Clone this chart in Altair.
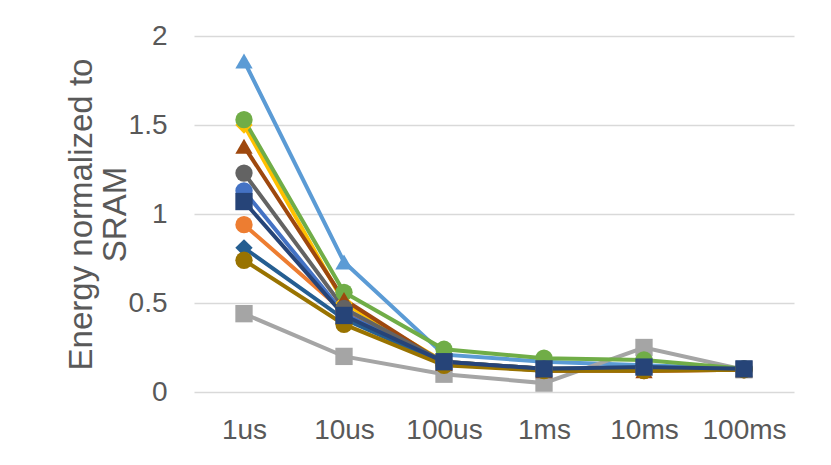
import altair as alt
import pandas as pd

categories = ["1us", "10us", "100us", "1ms", "10ms", "100ms"]
series_names = ["360buy", "adobe", "baidumap", "frozenbubble", "k9mail",
                "kingsoftoffice", "mxplayer", "netease", "sinaweibo", "ttpod", "AVERAGE"]
series_colors = ["#5B9BD5", "#ED7D31", "#A5A5A5", "#FFC000", "#4472C4",
                 "#70AD47", "#255E91", "#9E480E", "#636363", "#997300", "#264478"]
series_markers = ["triangle-up", "circle", "square", "diamond", "circle",
                  "circle", "diamond", "triangle-up", "circle", "circle", "square"]
# legend is filled column by column: left column first, then right column
legend_order = ["360buy", "baidumap", "k9mail", "mxplayer", "sinaweibo", "AVERAGE",
                "adobe", "frozenbubble", "kingsoftoffice", "netease", "ttpod"]

v_360buy = [1.86, 0.73, 0.21, 0.17, 0.15, 0.13]
v_adobe = [0.94, 0.45, 0.16, 0.13, 0.12, 0.125]
v_baidumap = [0.44, 0.20, 0.10, 0.05, 0.25, 0.125]
v_frozenbubble = [1.50, 0.50, 0.17, 0.13, 0.13, 0.13]
v_k9mail = [1.13, 0.44, 0.17, 0.13, 0.13, 0.13]
v_kingsoftoffice = [1.53, 0.56, 0.24, 0.19, 0.18, 0.13]
v_mxplayer = [0.81, 0.41, 0.16, 0.13, 0.13, 0.125]
v_netease = [1.38, 0.52, 0.16, 0.12, 0.12, 0.125]
v_sinaweibo = [1.23, 0.47, 0.17, 0.13, 0.13, 0.13]
v_ttpod = [0.74, 0.38, 0.15, 0.12, 0.12, 0.125]
v_average = [1.07, 0.43, 0.17, 0.13, 0.14, 0.13]

all_values = [v_360buy, v_adobe, v_baidumap, v_frozenbubble, v_k9mail,
              v_kingsoftoffice, v_mxplayer, v_netease, v_sinaweibo, v_ttpod, v_average]

rows = []
for si, (name, vals) in enumerate(zip(series_names, all_values)):
    for ci, (cat, v) in enumerate(zip(categories, vals)):
        rows.append({"series": name, "time": cat, "value": v, "order": si, "ci": ci})
df = pd.DataFrame(rows)

FONT = "Liberation Sans"
TXT = "#595959"

name_color = dict(zip(series_names, series_colors))
name_marker = dict(zip(series_names, series_markers))

legend = alt.Legend(
    orient="none", legendX=121.5, legendY=-10, columns=2, title=None,
    labelFont=FONT, labelFontSize=27, labelColor=TXT,
    symbolSize=289, symbolStrokeWidth=3.5, labelOffset=25.5,
    columnPadding=72, rowPadding=2.5, padding=0, symbolOpacity=1,
)

color_scale = alt.Scale(domain=legend_order, range=[name_color[n] for n in legend_order])
shape_scale = alt.Scale(domain=legend_order, range=[name_marker[n] for n in legend_order])
x = alt.X("time:N", sort=categories, scale=alt.Scale(domain=categories),
          axis=alt.Axis(title=None, labelAngle=0, grid=False, domain=False, ticks=False,
                        labelPadding=24, labelFontSize=28))
y = alt.Y("value:Q", scale=alt.Scale(domain=[0, 2], nice=False),
          axis=alt.Axis(title=["Energy normalized to", "SRAM"], values=[0, 0.5, 1, 1.5, 2],
                        format="~g", grid=True, domain=False, ticks=False, labelPadding=27,
                        labelFontSize=28,
                        titleFontSize=33, titleLineHeight=34, titleFontWeight="normal",
                        titleX=-113, titleBaseline="middle"))

base = alt.Chart(df)
lines = base.mark_line(strokeWidth=4).encode(
    x=x, y=y, color=alt.Color("series:N", scale=color_scale, legend=None),
    detail="series:N", order="ci:Q")
points = base.mark_point(filled=True, size=300, opacity=1).encode(
    x=x, y=y,
    color=alt.Color("series:N", scale=color_scale, legend=legend),
    shape=alt.Shape("series:N", scale=shape_scale, legend=None),
)

chart = alt.layer(lines, points).properties(
    width=600, height=356,
    padding={"left": 186, "top": 28, "right": 25, "bottom": 60},
    autosize=alt.AutoSizeParams(type="none"),
).configure_view(stroke=None).configure_axis(
    labelFont=FONT, labelColor=TXT, titleFont=FONT, titleColor=TXT,
    gridColor="#D9D9D9", gridWidth=1.3,
)

chart.save("out.html", embed_options={"renderer": "svg", "actions": False})
